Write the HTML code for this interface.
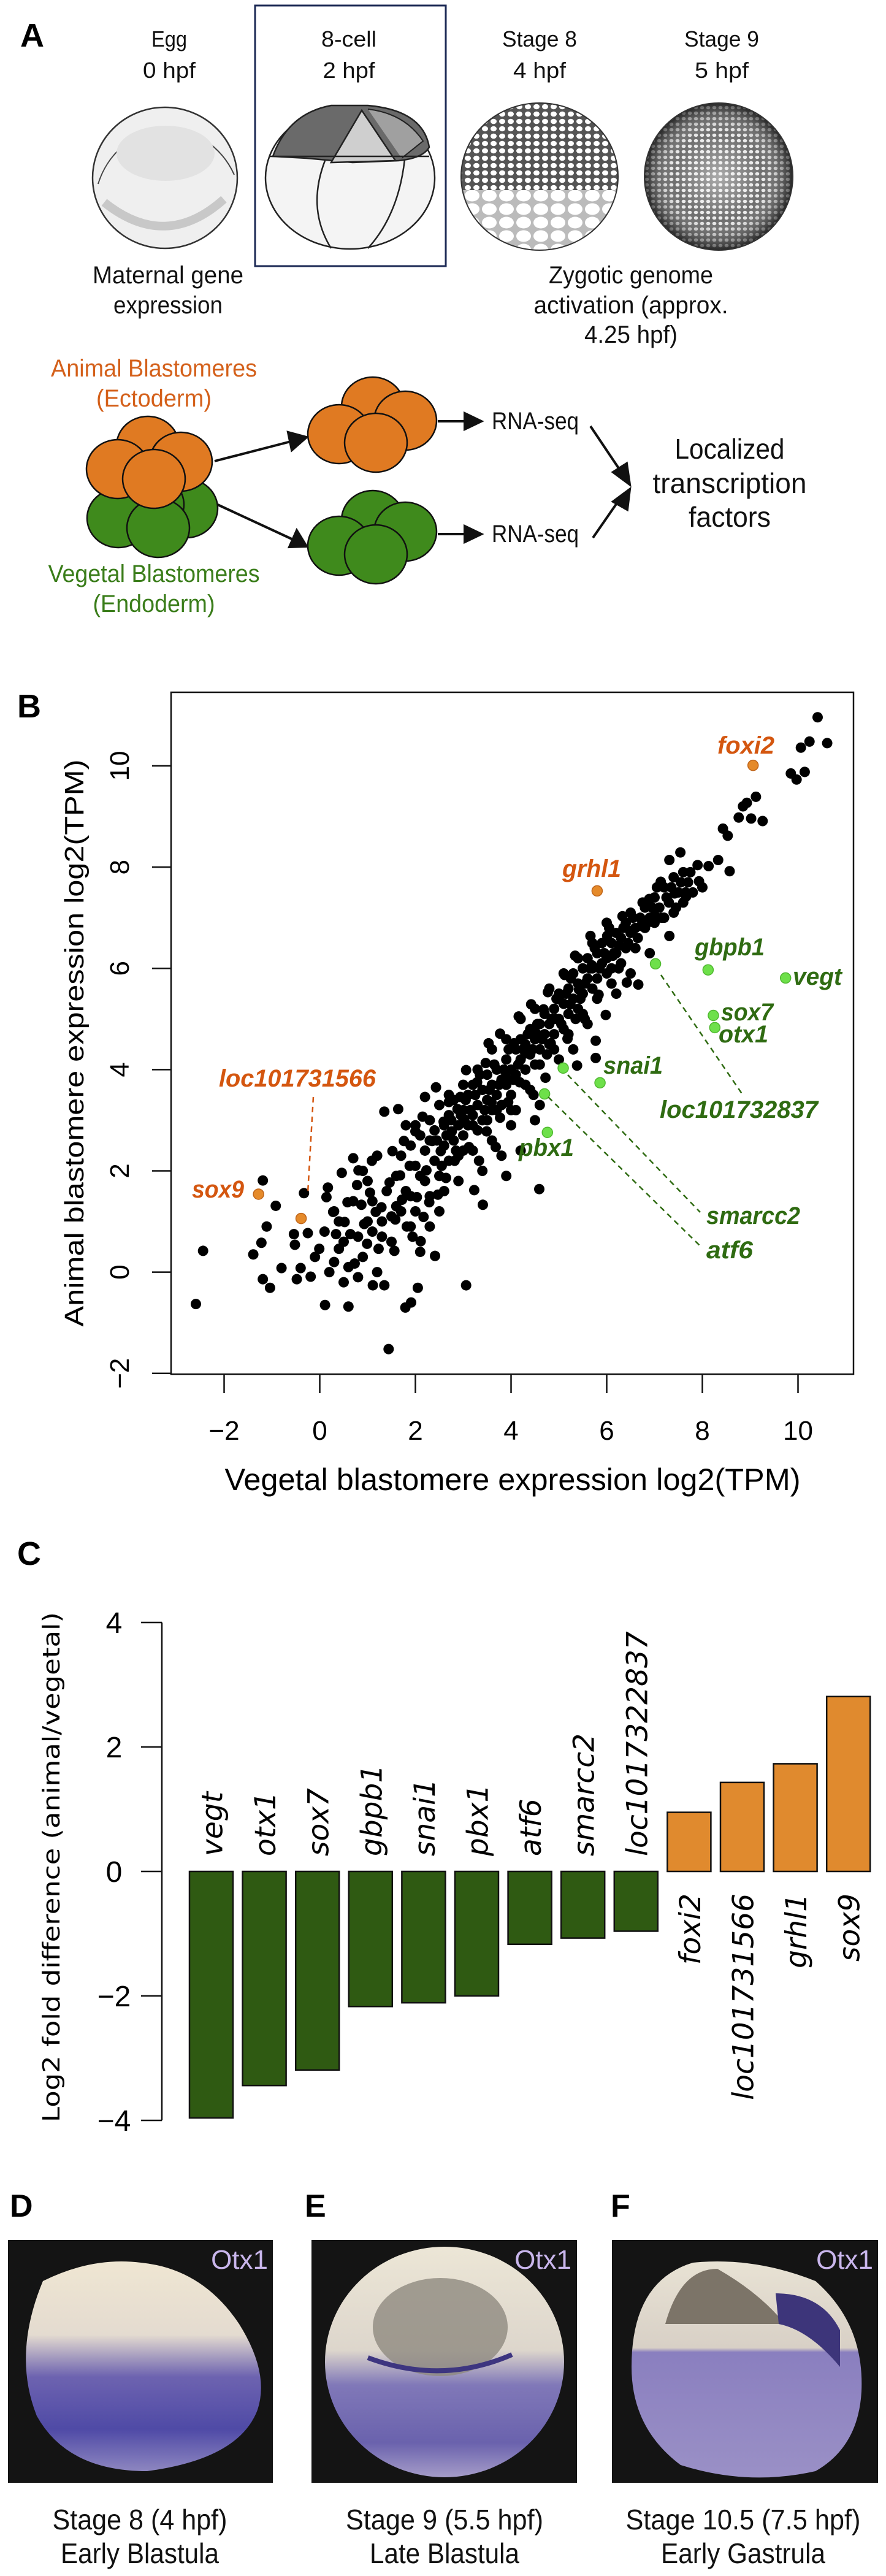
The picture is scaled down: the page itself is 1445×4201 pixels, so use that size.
<!DOCTYPE html>
<html><head><meta charset="utf-8"><title>Figure</title>
<style>
html,body{margin:0;padding:0;background:#fff;}
svg{display:block;}
.n{font-family:"Liberation Sans Narrow","Liberation Sans",sans-serif;}
.s{font-family:"Liberation Sans",sans-serif;}
.d{font-family:"DejaVu Sans","Liberation Sans",sans-serif;}
.hl{font-family:"Liberation Sans Narrow","Liberation Sans",sans-serif;font-weight:bold;font-style:italic;font-size:40px;}
</style></head>
<body>
<svg id="fig" width="1445" height="4201" viewBox="0 0 1445 4201" xmlns="http://www.w3.org/2000/svg">
<defs>
<pattern id="smallcells" width="14" height="12" patternUnits="userSpaceOnUse"><rect width="14" height="12" fill="#555"/><ellipse cx="7" cy="6" rx="5" ry="4.3" fill="#fff"/></pattern>
<pattern id="bigcells" width="28" height="22" patternUnits="userSpaceOnUse"><rect width="28" height="22" fill="#bbb"/><ellipse cx="14" cy="11" rx="12" ry="9.5" fill="#fff"/></pattern>
<pattern id="tinycells" width="10" height="9" patternUnits="userSpaceOnUse"><rect width="10" height="9" fill="#555"/><ellipse cx="5" cy="4.5" rx="3.3" ry="2.8" fill="#e8e8e8"/></pattern>
<radialGradient id="st9" cx="50%" cy="50%" r="50%"><stop offset="0" stop-color="#fff" stop-opacity="0.5"/><stop offset="0.6" stop-color="#fff" stop-opacity="0.15"/><stop offset="1" stop-color="#111" stop-opacity="0.7"/></radialGradient>
<linearGradient id="embD" x1="0" y1="0" x2="0" y2="1"><stop offset="0" stop-color="#efe6d2"/><stop offset="0.35" stop-color="#e4dbd0"/><stop offset="0.55" stop-color="#6d63b0"/><stop offset="0.8" stop-color="#4f4aa6"/><stop offset="1" stop-color="#8d86c0"/></linearGradient>
<linearGradient id="embE" x1="0" y1="0" x2="0" y2="1"><stop offset="0" stop-color="#ece6d6"/><stop offset="0.45" stop-color="#ddd6cc"/><stop offset="0.6" stop-color="#8078b8"/><stop offset="0.85" stop-color="#6a62ad"/><stop offset="1" stop-color="#a59cc8"/></linearGradient>
<linearGradient id="embF" x1="0" y1="0" x2="0" y2="1"><stop offset="0" stop-color="#e8e2d4"/><stop offset="0.4" stop-color="#d8d0c6"/><stop offset="0.42" stop-color="#8a7fbf"/><stop offset="1" stop-color="#9a90c6"/></linearGradient>
</defs>

<!-- ================= PANEL A ================= -->
<g>
<text x="33" y="76" class="s" font-size="54" font-weight="bold">A</text>
<rect x="416" y="9" width="311" height="425" fill="none" stroke="#1c2a55" stroke-width="3"/>
<g class="n" font-size="36" text-anchor="middle" fill="#111">
<text x="276" y="76" textLength="58" lengthAdjust="spacingAndGlyphs">Egg</text>
<text x="276" y="127" textLength="86" lengthAdjust="spacingAndGlyphs">0 hpf</text>
<text x="569" y="76" textLength="90" lengthAdjust="spacingAndGlyphs">8-cell</text>
<text x="569" y="127" textLength="85" lengthAdjust="spacingAndGlyphs">2 hpf</text>
<text x="880" y="76" textLength="122" lengthAdjust="spacingAndGlyphs">Stage 8</text>
<text x="880" y="127" textLength="86" lengthAdjust="spacingAndGlyphs">4 hpf</text>
<text x="1177" y="76" textLength="122" lengthAdjust="spacingAndGlyphs">Stage 9</text>
<text x="1177" y="127" textLength="88" lengthAdjust="spacingAndGlyphs">5 hpf</text>
</g>
<g>
<ellipse cx="269" cy="290" rx="118" ry="115" fill="#efefef" stroke="#333" stroke-width="2.5"/>
<path d="M160 300 A120 130 0 0 1 382 285" fill="none" stroke="#444" stroke-width="2"/>
<path d="M170 330 Q270 410 365 325" fill="none" stroke="#c8c8c8" stroke-width="14"/>
<ellipse cx="270" cy="250" rx="80" ry="45" fill="#e2e2e2"/>
</g>
<g>
<ellipse cx="571" cy="290" rx="138" ry="116" fill="#f4f4f4" stroke="#222" stroke-width="2.5"/>
<path d="M445 255 Q470 185 540 172 L600 172 Q690 180 700 240 Q690 258 650 262 L575 265 L500 258 Z" fill="#6a6a6a" stroke="#222" stroke-width="2.5"/>
<path d="M540 265 L590 180 L645 262 Z" fill="#cfcfcf" stroke="#222" stroke-width="2.5"/>
<path d="M600 178 Q660 185 690 230 L655 258" fill="#a0a0a0" stroke="#222" stroke-width="2"/>
<path d="M530 262 Q500 340 540 405" fill="none" stroke="#222" stroke-width="2.5"/>
<path d="M660 260 Q650 350 600 405" fill="none" stroke="#222" stroke-width="2.5"/>
<path d="M440 255 L700 255" stroke="#222" stroke-width="2.5"/>
</g>
<g>
<clipPath id="c8"><ellipse cx="880" cy="288" rx="128" ry="120"/></clipPath>
<g clip-path="url(#c8)"><rect x="750" y="165" width="260" height="145" fill="url(#smallcells)"/><rect x="750" y="310" width="260" height="100" fill="url(#bigcells)"/></g>
<ellipse cx="880" cy="288" rx="128" ry="120" fill="none" stroke="#333" stroke-width="2"/>
</g>
<g>
<ellipse cx="1172" cy="288" rx="121" ry="120" fill="url(#tinycells)"/>
<ellipse cx="1172" cy="288" rx="121" ry="120" fill="url(#st9)" stroke="#333" stroke-width="2"/>
</g>
<g class="n" font-size="40" text-anchor="middle" fill="#111">
<text x="274" y="462" textLength="246" lengthAdjust="spacingAndGlyphs">Maternal gene</text>
<text x="274" y="511" textLength="178" lengthAdjust="spacingAndGlyphs">expression</text>
<text x="1029" y="462" textLength="268" lengthAdjust="spacingAndGlyphs">Zygotic genome</text>
<text x="1029" y="511" textLength="317" lengthAdjust="spacingAndGlyphs">activation (approx.</text>
<text x="1029" y="559" textLength="152" lengthAdjust="spacingAndGlyphs">4.25 hpf)</text>
<text x="251" y="614" fill="#d4601a" textLength="336" lengthAdjust="spacingAndGlyphs">Animal Blastomeres</text>
<text x="251" y="663" fill="#d4601a" textLength="188" lengthAdjust="spacingAndGlyphs">(Ectoderm)</text>
<text x="251" y="949" fill="#3a7d1a" textLength="345" lengthAdjust="spacingAndGlyphs">Vegetal Blastomeres</text>
<text x="251" y="998" fill="#3a7d1a" textLength="199" lengthAdjust="spacingAndGlyphs">(Endoderm)</text>
<text x="873" y="700" textLength="142" lengthAdjust="spacingAndGlyphs">RNA-seq</text>
<text x="873" y="884" textLength="142" lengthAdjust="spacingAndGlyphs">RNA-seq</text>
<text x="1190" y="748" font-size="46" textLength="179" lengthAdjust="spacingAndGlyphs">Localized</text>
<text x="1190" y="804" font-size="46" textLength="251" lengthAdjust="spacingAndGlyphs">transcription</text>
<text x="1190" y="859" font-size="46" textLength="134" lengthAdjust="spacingAndGlyphs">factors</text>
</g>
<g stroke="#111" stroke-width="2.5">
<g fill="#3f8a1c"><ellipse cx="304" cy="829" rx="51" ry="48"/><ellipse cx="249" cy="823" rx="51" ry="48"/><ellipse cx="193" cy="845" rx="51" ry="48"/><ellipse cx="258" cy="861" rx="51" ry="48"/></g>
<g fill="#e07a22"><ellipse cx="241" cy="727" rx="51" ry="48"/><ellipse cx="295" cy="753" rx="51" ry="48"/><ellipse cx="192" cy="765" rx="51" ry="48"/><ellipse cx="251" cy="781" rx="51" ry="48"/></g>
<g fill="#e07a22"><ellipse cx="608" cy="663" rx="51" ry="48"/><ellipse cx="661" cy="686" rx="51" ry="48"/><ellipse cx="553" cy="708" rx="51" ry="48"/><ellipse cx="613" cy="722" rx="51" ry="48"/></g>
<g fill="#3f8a1c"><ellipse cx="608" cy="848" rx="51" ry="48"/><ellipse cx="661" cy="867" rx="51" ry="48"/><ellipse cx="553" cy="890" rx="51" ry="48"/><ellipse cx="613" cy="904" rx="51" ry="48"/></g>
</g>
<g stroke="#111" stroke-width="4" fill="#111">
<line x1="350" y1="752" x2="478" y2="719"/><polygon points="500,713 470,705 476,734"/>
<line x1="355" y1="823" x2="478" y2="880"/><polygon points="500,891 484,865 472,892"/>
<line x1="714" y1="687" x2="760" y2="687"/><polygon points="785,687 758,674 758,700"/>
<line x1="714" y1="871" x2="760" y2="871"/><polygon points="785,871 758,858 758,884"/>
<line x1="963" y1="695" x2="1012" y2="768"/><polygon points="1027,790 1022,756 1000,770"/>
<line x1="967" y1="877" x2="1012" y2="812"/><polygon points="1027,798 1000,818 1023,831"/>
</g>
</g>

<!-- ================= PANEL B ================= -->
<g id="panelB">
<text x="28" y="1170" class="s" font-size="54" font-weight="bold">B</text>
<rect x="279" y="1129" width="1113" height="1112" fill="none" stroke="#111" stroke-width="2.5"/>
<g id="bTicks"></g>
<g id="bDots"></g>
<text transform="translate(136,1701) rotate(-90)" class="s" font-size="44" text-anchor="middle" textLength="925" lengthAdjust="spacingAndGlyphs">Animal blastomere expression log2(TPM)</text>
<text x="836" y="2430" class="n" font-size="50" text-anchor="middle" textLength="939" lengthAdjust="spacingAndGlyphs">Vegetal blastomere expression log2(TPM)</text>
<g stroke-dasharray="9,7" stroke-width="2.5" fill="none">
<line x1="511" y1="1789" x2="502" y2="1945" stroke="#d4560f"/>
<line x1="1078" y1="1590" x2="1211" y2="1785" stroke="#2f6b12"/>
<line x1="926" y1="1753" x2="1142" y2="1977" stroke="#2f6b12"/>
<line x1="894" y1="1789" x2="1142" y2="2032" stroke="#2f6b12"/>
</g>
<g class="hl">
<text x="1170" y="1229" fill="#d4560f" textLength="93" lengthAdjust="spacingAndGlyphs">foxi2</text>
<text x="917" y="1430" fill="#d4560f" textLength="96" lengthAdjust="spacingAndGlyphs">grhl1</text>
<text x="357" y="1772" fill="#d4560f" textLength="256" lengthAdjust="spacingAndGlyphs">loc101731566</text>
<text x="313" y="1953" fill="#d4560f" textLength="85" lengthAdjust="spacingAndGlyphs">sox9</text>
<text x="1133" y="1558" fill="#2f6b12" textLength="114" lengthAdjust="spacingAndGlyphs">gbpb1</text>
<text x="1293" y="1606" fill="#2f6b12" textLength="80" lengthAdjust="spacingAndGlyphs">vegt</text>
<text x="1176" y="1664" fill="#2f6b12" textLength="85" lengthAdjust="spacingAndGlyphs">sox7</text>
<text x="1172" y="1700" fill="#2f6b12" textLength="81" lengthAdjust="spacingAndGlyphs">otx1</text>
<text x="984" y="1751" fill="#2f6b12" textLength="97" lengthAdjust="spacingAndGlyphs">snai1</text>
<text x="1076" y="1823" fill="#2f6b12" textLength="258" lengthAdjust="spacingAndGlyphs">loc101732837</text>
<text x="846" y="1885" fill="#2f6b12" textLength="90" lengthAdjust="spacingAndGlyphs">pbx1</text>
<text x="1152" y="1996" fill="#2f6b12" textLength="153" lengthAdjust="spacingAndGlyphs">smarcc2</text>
<text x="1152" y="2052" fill="#2f6b12" textLength="76" lengthAdjust="spacingAndGlyphs">atf6</text>
</g>
</g>

<!-- ================= PANEL C ================= -->
<g id="panelC">
<text x="28" y="2552" class="s" font-size="54" font-weight="bold">C</text>
<text transform="translate(97,3045) rotate(-90)" class="d" font-size="38" text-anchor="middle" textLength="832" lengthAdjust="spacingAndGlyphs">Log2 fold difference (animal/vegetal)</text>
<g id="cAxis"></g>
<g id="cBars"></g>
</g>

<!-- ================= PANELS D-F ================= -->
<g>
<g class="s" font-size="52" font-weight="bold">
<text x="16" y="3615">D</text>
<text x="497" y="3615">E</text>
<text x="996" y="3615">F</text>
</g>
<g>
<rect x="13" y="3653" width="432" height="396" fill="#141414"/>
<path d="M70 3720 Q150 3680 230 3690 Q330 3700 390 3790 Q440 3870 420 3930 Q390 4010 240 4030 Q110 4030 60 3940 Q20 3840 70 3720 Z" fill="url(#embD)"/>
<text x="437" y="3700" class="n" font-size="44" fill="#c9b6ec" text-anchor="end">Otx1</text>
</g>
<g>
<rect x="508" y="3653" width="433" height="396" fill="#141414"/>
<ellipse cx="725" cy="3852" rx="195" ry="188" fill="url(#embE)"/>
<ellipse cx="718" cy="3795" rx="110" ry="80" fill="#8e8980" opacity="0.8"/>
<path d="M600 3845 Q720 3890 835 3840" fill="none" stroke="#3d3580" stroke-width="8"/>
<text x="932" y="3700" class="n" font-size="44" fill="#c9b6ec" text-anchor="end">Otx1</text>
</g>
<g>
<rect x="998" y="3653" width="434" height="396" fill="#141414"/>
<path d="M1030 3860 Q1030 3720 1130 3690 Q1230 3680 1330 3720 Q1410 3790 1405 3900 Q1400 3990 1330 4030 Q1220 4055 1110 4020 Q1030 3960 1030 3860 Z" fill="url(#embF)"/>
<path d="M1085 3790 Q1110 3700 1170 3700 Q1240 3740 1280 3790 Z" fill="#7c7468"/>
<path d="M1265 3740 Q1340 3740 1370 3800 L1370 3860 Q1320 3800 1270 3790 Z" fill="#3d357a"/>
<text x="1424" y="3700" class="n" font-size="44" fill="#c9b6ec" text-anchor="end">Otx1</text>
</g>
<g class="n" font-size="46" text-anchor="middle" fill="#111">
<text x="228" y="4125" textLength="285" lengthAdjust="spacingAndGlyphs">Stage 8 (4 hpf)</text>
<text x="228" y="4180" textLength="258" lengthAdjust="spacingAndGlyphs">Early Blastula</text>
<text x="725" y="4125" textLength="322" lengthAdjust="spacingAndGlyphs">Stage 9 (5.5 hpf)</text>
<text x="725" y="4180" textLength="244" lengthAdjust="spacingAndGlyphs">Late Blastula</text>
<text x="1212" y="4125" textLength="383" lengthAdjust="spacingAndGlyphs">Stage 10.5 (7.5 hpf)</text>
<text x="1212" y="4180" textLength="268" lengthAdjust="spacingAndGlyphs">Early Gastrula</text>
</g>
</g>
</svg>

<script>
// ---------- Panel B data ----------
const bgPoints = [
[-2.59,-0.63],[-2.44,0.42],[-1.39,0.35],[-1.19,1.81],[-0.92,1.31],[-1.11,0.90],[-1.22,0.58],[-1.19,-0.14],[-1.04,-0.31],[-0.80,0.08],
[-0.54,0.75],[-0.52,0.54],[-0.48,-0.14],[-0.40,0.08],[-0.33,1.56],[-0.25,0.77],[-0.19,-0.09],[-0.01,0.46],[0.11,-0.65],[0.60,-0.68],
[0.14,1.48],[0.17,1.67],[0.28,1.19],[0.34,0.75],[0.40,0.46],[0.46,1.96],[0.52,0.99],[0.58,1.38],[0.64,0.75],[0.70,2.25],
[0.73,0.17],[0.78,1.72],[0.81,2.01],[0.87,1.33],[0.93,0.95],[0.99,0.56],[1.05,1.57],[1.09,2.20],[1.11,-0.26],[1.17,1.19],
[1.23,0.46],[1.29,1.28],[1.35,-0.26],[1.35,3.17],[1.44,-1.52],[1.46,1.77],[1.52,2.39],[1.56,0.42],[1.58,1.04],[1.64,3.22],
[1.68,1.91],[1.72,1.43],[1.76,2.59],[1.79,-0.70],[1.82,0.90],[1.88,2.10],[1.91,-0.60],[1.94,0.70],[2.00,2.78],[2.03,1.48],
[2.05,-0.31],[2.11,0.61],[2.15,3.07],[2.17,1.09],[2.20,3.46],[2.23,2.01],[2.29,1.38],[2.35,2.59],[2.41,0.32],[2.43,3.65],
[2.47,1.53],[2.53,2.39],[2.59,2.97],[2.64,1.86],[2.70,3.36],[2.76,2.78],[2.82,2.20],[2.88,3.22],[2.94,3.46],[3.02,3.02],
[3.06,-0.26],[3.06,3.99],[3.12,2.47],[3.23,1.62],[3.29,3.75],[3.33,2.20],[3.41,1.33],[3.47,4.13],[3.49,2.78],[3.53,4.52],
[3.59,3.36],[3.68,2.47],[3.77,4.71],[3.77,3.05],[3.89,3.86],[3.94,3.36],[4.06,4.52],[4.16,5.05],[4.18,3.75],[4.30,4.32],
[4.42,5.29],[4.47,3.50],[4.53,4.71],[4.59,1.64],[4.68,5.19],[4.72,3.84],[4.77,5.53],[4.83,4.52],[4.94,5.00],[5.00,5.39],
[5.12,5.87],[5.18,4.61],[5.24,5.29],[5.34,6.25],[5.38,4.08],[5.42,5.58],[5.54,5.00],[5.66,6.64],[5.69,6.06],[5.77,4.57],
[5.77,4.23],[5.83,5.48],[5.98,5.08],[6.01,6.64],[6.13,6.25],[6.25,6.45],[6.33,7.03],[6.42,5.72],[6.52,6.74],[6.66,5.68],
[6.72,6.84],[6.89,7.37],[7.01,7.03],[7.13,7.71],[7.31,6.64],[7.31,8.14],[7.42,7.48],[7.54,8.29],[7.60,7.90],[7.66,7.42],
[7.90,8.04],[7.93,7.72],[8.13,8.02],[8.33,8.14],[8.57,7.92],[8.43,8.76],[8.53,8.62],[8.76,8.98],[8.85,9.20],[8.93,9.27],
[9.02,8.96],[9.12,9.39],[9.26,8.91],[9.85,9.85],[9.97,9.73],[10.14,9.88],[10.06,10.36],[10.24,10.48],[10.41,10.96],[10.61,10.45],
[1.6,1.9],[1.7,2.3],[1.8,1.6],[1.9,2.5],[2.0,2.1],[2.0,1.2],[2.1,2.7],[2.2,1.8],[2.2,2.4],[2.3,3.0],[2.3,1.5],[2.4,2.2],[2.4,2.8],
[2.5,1.9],[2.5,3.3],[2.6,2.5],[2.6,2.9],[2.7,2.2],[2.7,3.1],[2.8,2.6],[2.8,3.4],[2.9,2.9],[2.9,2.3],[3.0,3.2],[3.0,2.7],[3.1,3.5],
[3.1,2.9],[3.2,3.1],[3.2,3.7],[3.3,3.3],[3.3,2.8],[3.4,3.6],[3.4,3.0],[3.5,3.9],[3.5,3.4],[3.6,3.2],[3.6,3.7],[3.7,4.0],[3.7,3.5],
[3.8,3.8],[3.8,3.3],[3.9,4.2],[3.9,3.7],[4.0,4.0],[4.0,3.5],[4.1,4.4],[4.1,3.9],[4.2,4.2],[4.2,4.6],[4.3,4.0],[4.3,4.5],[4.4,4.3],
[4.4,4.8],[4.5,4.1],[4.5,4.6],[4.6,4.9],[4.6,4.4],[4.7,4.7],[4.7,5.1],[4.8,4.5],[4.8,4.9],[4.9,5.2],[4.9,4.7],[5.0,5.0],[5.0,5.5],
[5.1,5.3],[5.1,4.8],[5.2,5.6],[5.2,5.1],[5.3,5.4],[5.3,5.9],[5.4,5.7],[5.4,5.2],[5.5,6.0],[5.5,5.5],[5.6,5.8],[5.6,6.2],[5.7,5.6],
[5.7,6.0],[5.8,6.3],[5.8,5.8],[5.9,6.1],[5.9,6.5],[6.0,6.2],[6.0,5.9],[6.1,6.5],[6.1,6.0],[6.2,6.7],[6.2,6.3],[6.3,6.6],[6.3,6.1],
[6.4,6.9],[6.4,6.4],[6.5,6.7],[6.5,7.1],[6.6,6.8],[6.6,6.4],[6.7,7.0],[6.8,7.2],[6.8,6.8],[6.9,7.0],[7.0,7.4],[7.0,6.9],[7.1,7.2],
[7.2,7.6],[7.2,7.0],[7.3,7.3],[7.4,7.8],[7.4,7.1],[7.5,7.5],[7.6,7.3],[7.7,7.7],[7.8,7.5],[8.0,7.6],
[1.5,0.6],[1.6,1.3],[1.9,0.9],[2.1,0.4],[2.3,0.9],[2.5,1.2],[2.6,1.6],[2.9,1.8],[3.2,2.4],[3.4,2.0],[3.6,2.6],[3.8,2.3],[4.0,2.9],
[4.1,3.2],[4.4,3.6],[4.2,2.4],[4.5,3.0],[3.9,1.9],[4.6,3.3],[5.0,4.2],[5.3,4.4],[5.6,4.9],[6.2,5.5],[6.5,5.9],[6.9,6.3],
[0.2,0.0],[0.3,0.2],[0.5,-0.2],[0.6,0.1],[0.8,-0.1],[0.9,0.3],[1.2,0.0],[1.3,0.7],[0.4,1.0],[0.7,1.4],[1.0,1.8],[1.1,0.8],
[1.4,1.6],[0.3,1.2],[0.9,2.0],[1.2,2.3],[1.8,2.9],[0.1,0.8],[-0.1,0.3],[1.0,1.0],[0.5,0.6],[1.5,1.1],
[3.05,3.4],[3.15,3.2],[3.25,3.5],[3.35,3.9],[3.45,3.2],[3.55,3.6],[3.65,4.1],[3.75,3.7],[3.85,4.0],[3.95,4.4],[4.05,3.8],[4.15,4.1],
[4.25,4.4],[4.35,4.7],[4.45,4.4],[4.55,4.9],[4.65,4.6],[4.75,4.3],[4.85,5.0],[4.95,5.4],[5.05,4.9],[5.15,5.5],[5.25,5.8],[5.35,5.0],
[5.45,5.4],[5.55,5.7],[5.65,6.0],[5.75,6.4],[5.85,6.0],[5.95,6.3],[6.05,6.8],[6.15,6.3],[6.25,6.0],[6.35,6.8],[6.45,6.5],[6.55,7.0],
[6.65,6.6],[6.75,7.3],[6.85,6.9],[6.95,7.2],[7.05,7.6],[7.15,7.0],[7.25,7.4],[7.35,7.6],[7.45,7.2],[7.55,7.7],[7.65,7.5],[7.75,7.9],
[2.45,2.6],[2.55,2.1],[2.65,2.7],[2.75,3.0],[2.85,2.4],[2.95,3.1],[3.0,2.4],[3.2,2.9],[3.5,3.0],[3.7,3.2],[4.0,3.2],[4.3,3.7],
[4.6,4.1],[4.9,4.4],[5.2,4.7],[5.5,5.1],[5.8,5.4],[6.1,5.7],[4.2,5.0],[4.5,5.2],[4.8,5.6],[5.1,5.9],[5.4,6.2],[5.7,6.5],[6.0,6.9],
[3.6,4.4],[3.9,4.6],[3.3,4.0],[3.0,3.7],[2.7,3.5],[1.9,1.5],[2.1,1.9],[2.3,2.6],[2.0,2.9],[1.7,1.2],[1.3,1.0],[1.1,1.4],[0.8,0.7]
];
const hlGenes  = ["sox9","loc101731566","grhl1","foxi2","vegt","gbpb1","loc101732837","sox7","otx1","snai1","smarcc2","atf6","pbx1"];
const hlVeg    = [-1.28,-0.39,5.80,9.06,9.74,8.12,7.02,8.23,8.26,5.86,5.09,4.70,4.76];
const hlAnim   = [1.54,1.06,7.53,10.01,5.81,5.97,6.09,5.07,4.83,3.74,4.03,3.52,2.76];
const hlGroup  = ["animal","animal","animal","animal","vegetal","vegetal","vegetal","vegetal","vegetal","vegetal","vegetal","vegetal","vegetal"];
const bXTicks = [-2,0,2,4,6,8,10];
const bYTicks = [-2,0,2,4,6,8,10];
const bXTickLabels = ["\u22122","0","2","4","6","8","10"];
const bYTickLabels = ["\u22122","0","2","4","6","8","10"];

// ---------- Panel C data ----------
const cGenes  = ["vegt","otx1","sox7","gbpb1","snai1","pbx1","atf6","smarcc2","loc1017322837","foxi2","loc101731566","grhl1","sox9"];
const cValues = [-3.96,-3.44,-3.19,-2.17,-2.11,-2.00,-1.17,-1.07,-0.96,0.95,1.43,1.73,2.81];
const cYTicks = [-4,-2,0,2,4];
const cYTickLabels = ["\u22124","\u22122","0","2","4"];

const NS = "http://www.w3.org/2000/svg";
function mk(tag, attrs, parent){ const e=document.createElementNS(NS,tag); for(const k in attrs) e.setAttribute(k,attrs[k]); parent.appendChild(e); return e; }

const bx = v => 521.5 + 78.0*v;
const by = v => 2074.6 - 82.56*v;
const bTicks = document.getElementById('bTicks');
bXTicks.forEach((t,i)=>{
  const l = mk('line',{x1:bx(t),x2:bx(t),y1:2241,y2:2272,stroke:'#111','stroke-width':2.5},bTicks);
  
  
  const tx = mk('text',{x:bx(t),y:2348,'text-anchor':'middle','font-size':44,'class':'n'},bTicks);
  tx.textContent = bXTickLabels[i];
  
  
});
bYTicks.forEach((t,i)=>{
  const l = mk('line',{x1:248,x2:279,y1:by(t),y2:by(t),stroke:'#111','stroke-width':2.5},bTicks);
  
  
  const tx = mk('text',{transform:`translate(210,${by(t)}) rotate(-90)`,'text-anchor':'middle','font-size':44,'class':'s'},bTicks);
  tx.textContent = bYTickLabels[i];
  
  
});
const bDots = document.getElementById('bDots');
bgPoints.forEach(p=>{
  const c = mk('circle',{cx:bx(p[0]),cy:by(p[1]),r:8.5,fill:'#000'},bDots);
  
  
});
hlGenes.forEach((g,i)=>{
  const col = hlGroup[i]==='animal' ? '#e58a2a' : '#6ee04a';
  const c = mk('circle',{cx:bx(hlVeg[i]),cy:by(hlAnim[i]),r:8.5,fill:col,stroke:hlGroup[i]==='animal'?'#c0651a':'#4fb82f','stroke-width':1.5},bDots);
  
  
});

const cy = v => 3052 - 101.5*v;
const cx = i => 309 + i*86.6;
const BW = 71;
const cAxis = document.getElementById('cAxis');
const axl = mk('line',{x1:264,x2:264,y1:cy(4),y2:cy(-4),stroke:'#111','stroke-width':2.5},cAxis);


cYTicks.forEach((t,i)=>{
  const l = mk('line',{x1:230,x2:264,y1:cy(t),y2:cy(t),stroke:'#111','stroke-width':2.5},cAxis);
  
  
  const tx = mk('text',{x:186,y:cy(t)+17,'text-anchor':'middle','font-size':48,'class':'s'},cAxis);
  tx.textContent = cYTickLabels[i];
  
  
});
const cBars = document.getElementById('cBars');
cGenes.forEach((g,i)=>{
  const v = cValues[i];
  const y0 = Math.min(cy(0),cy(v)), h = Math.abs(cy(v)-cy(0));
  const pos = v>0;
  const r = mk('rect',{x:cx(i),y:y0,width:BW,height:h,fill:pos?'#e08a2e':'#2f5a12',stroke:'#111','stroke-width':2.5},cBars);
  
  
  const mid = cx(i)+BW/2+18;
  let t;
  if(!pos){
    t = mk('text',{transform:`translate(${mid},${cy(0)-25}) rotate(-90)`,'text-anchor':'start','font-size':47,'font-style':'italic','class':'d'},cBars);
  } else {
    t = mk('text',{transform:`translate(${mid},${cy(0)+36}) rotate(-90)`,'text-anchor':'end','font-size':47,'font-style':'italic','class':'d'},cBars);
  }
  t.textContent = g;
  
  
});
</script>
</body></html>
